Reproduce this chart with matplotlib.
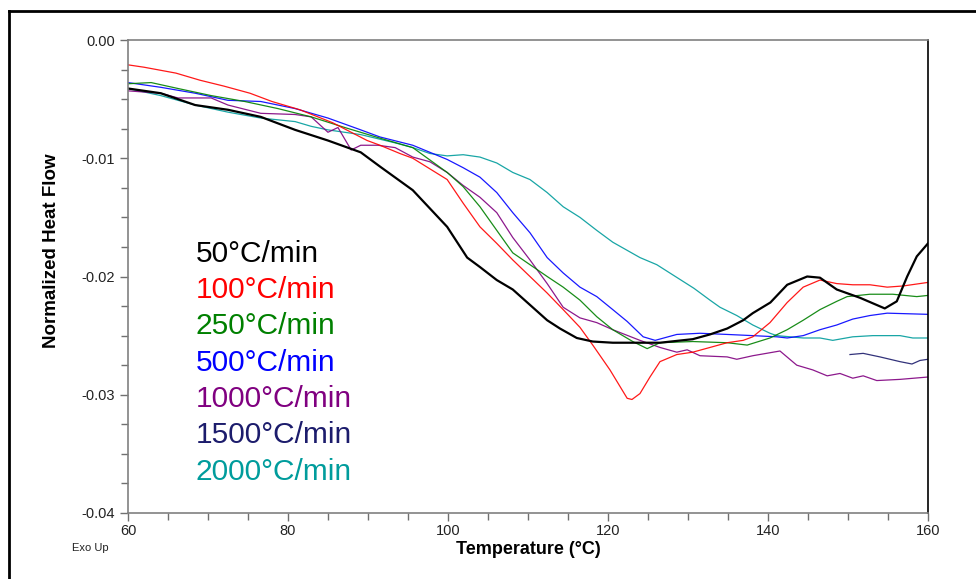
import matplotlib.pyplot as plt
from matplotlib.lines import Line2D
from matplotlib.ticker import MultipleLocator, FormatStrFormatter

plt.rcParams['font.family'] = ['Liberation Sans', 'DejaVu Sans']
plt.rcParams['axes.unicode_minus'] = False

# DSC traces (temperature in degC, normalized heat flow)
t_50 = [60, 64.1, 68.4, 72.5, 76.6, 80.9, 85, 89.1, 91.5, 95.6, 99.9, 102.4, 104, 106.1,
        108.1, 112.4, 114, 116.1, 118.1, 120.6, 124, 126.5, 130.6, 132.75, 134.9, 136.9,
        138.1, 140.3, 142.4, 144.9, 146.5, 148.6, 151.5, 154.6, 156.1, 157.4, 158.6, 160]
hf_50 = [-0.0041, -0.0045, -0.0055, -0.0059, -0.0065, -0.0076, -0.0085, -0.0095, -0.0107,
         -0.0127, -0.0158, -0.0184, -0.0192, -0.0203, -0.0211, -0.0237, -0.0244, -0.0252,
         -0.0255, -0.0256, -0.0256, -0.0256, -0.0253, -0.0249, -0.0244, -0.0237, -0.0231,
         -0.0222, -0.0207, -0.0200, -0.0201, -0.0211, -0.0218, -0.0227, -0.0221, -0.0200,
         -0.0183, -0.0172]

t_100 = [60, 62, 66, 69, 72, 75.25, 78, 81.5, 85.6, 89.9, 91.5, 94, 95.6, 99.9, 101.9, 104,
         106.1, 108.1, 110.25, 112.4, 114.4, 116.5, 118.1, 120.25, 122.4, 123, 124, 125.25,
         126.5, 128.6, 130.6, 132.75, 134.9, 136.9, 138.1, 140.25, 142.4, 144.4, 146.5,
         148.6, 150.6, 152.75, 154.9, 156.9, 160]
hf_100 = [-0.0021, -0.0023, -0.0028, -0.0034, -0.0039, -0.0045, -0.0052, -0.0059, -0.0070,
          -0.0085, -0.0089, -0.0096, -0.0100, -0.0118, -0.0138, -0.0158, -0.0172, -0.0186,
          -0.0200, -0.0214, -0.0228, -0.0243, -0.0258, -0.0279, -0.0303, -0.0304, -0.0299,
          -0.0285, -0.0272, -0.0266, -0.0264, -0.0260, -0.0256, -0.0254, -0.0251, -0.0239,
          -0.0222, -0.0209, -0.0203, -0.0206, -0.0207, -0.0207, -0.0209, -0.0208, -0.0205]

t_250 = [60, 62.9, 66.25, 70.4, 74.6, 78.75, 82.9, 87.1, 91.5, 95.6, 99.9, 101.9, 104, 106.1,
         108.1, 110.25, 112.4, 114.4, 116.5, 118.6, 120.6, 123.1, 124.9, 126.5, 130.6, 134.9,
         137.4, 140.25, 142.4, 144.4, 146.5, 148.6, 149.9, 152.75, 155.6, 158.6, 160]
hf_250 = [-0.0037, -0.0036, -0.0041, -0.0047, -0.0052, -0.0058, -0.0065, -0.0074, -0.0083,
          -0.0091, -0.0112, -0.0124, -0.0141, -0.0161, -0.0180, -0.0190, -0.0200, -0.0209,
          -0.0220, -0.0234, -0.0245, -0.0255, -0.0261, -0.0256, -0.0255, -0.0256, -0.0258,
          -0.0252, -0.0245, -0.0237, -0.0228, -0.0221, -0.0217, -0.0215, -0.0215, -0.0217,
          -0.0216]

t_500 = [60, 64.1, 68.4, 72.5, 76.6, 80.9, 85, 89.1, 91.5, 95.6, 99.9, 101.9, 104, 106.1,
         108.1, 110.25, 112.4, 114.4, 116.5, 118.6, 120.6, 122.4, 124.4, 125.9, 128.6, 131.5,
         134.9, 138.1, 141.1, 142.4, 144.4, 146.5, 148.6, 150.6, 152.75, 154.9, 160]
hf_500 = [-0.0036, -0.0040, -0.0045, -0.0051, -0.0052, -0.0058, -0.0066, -0.0076, -0.0082,
          -0.0089, -0.0101, -0.0108, -0.0116, -0.0129, -0.0146, -0.0163, -0.0184, -0.0197,
          -0.0209, -0.0217, -0.0228, -0.0238, -0.0251, -0.0254, -0.0249, -0.0248, -0.0249,
          -0.0250, -0.0251, -0.0252, -0.0250, -0.0245, -0.0241, -0.0236, -0.0233, -0.0231,
          -0.0232]

t_1000 = [60, 64.1, 66.25, 70.4, 72.5, 76.6, 80.9, 82.9, 85, 86.25, 87.9, 89.1, 91.25, 93.4,
          95.6, 97.75, 99.9, 101.9, 104, 106.1, 108.1, 110.25, 112.4, 114.4, 116.5, 118.6,
          120.6, 124, 126.5, 128.6, 129.9, 131.5, 134.9, 136.1, 138.1, 141.5, 143.6, 145.6,
          147.4, 149, 150.6, 151.9, 153.6, 156.5, 160]
hf_1000 = [-0.0043, -0.0045, -0.0049, -0.0049, -0.0055, -0.0062, -0.0063, -0.0065, -0.0078,
           -0.0074, -0.0093, -0.0089, -0.0089, -0.0091, -0.0099, -0.0103, -0.0112, -0.0123,
           -0.0133, -0.0146, -0.0167, -0.0186, -0.0206, -0.0226, -0.0235, -0.0239, -0.0245,
           -0.0254, -0.0260, -0.0264, -0.0262, -0.0267, -0.0268, -0.0270, -0.0267, -0.0263,
           -0.0275, -0.0279, -0.0284, -0.0282, -0.0286, -0.0284, -0.0288, -0.0287, -0.0285]

t_1500 = [150.25, 151.9, 154, 156.5, 158, 159, 160]
hf_1500 = [-0.0266, -0.0265, -0.0268, -0.0272, -0.0274, -0.0271, -0.0270]

t_2000 = [60, 64.1, 68.4, 72.5, 76.6, 80.9, 82.9, 85, 89.1, 93.4, 95.6, 97.75, 99.9, 101.9,
          104, 106.1, 108.1, 110.25, 112.4, 114.4, 116.5, 118.6, 120.6, 124, 126.1, 130.75,
          132.75, 134, 136.1, 138.1, 140.25, 141.1, 144.4, 146.5, 148.1, 150.6, 153.1, 156.5,
          158.1, 160]
hf_2000 = [-0.0041, -0.0047, -0.0055, -0.0061, -0.0066, -0.0069, -0.0073, -0.0076, -0.0080,
           -0.0087, -0.0091, -0.0096, -0.0098, -0.0097, -0.0099, -0.0104, -0.0112, -0.0118,
           -0.0129, -0.0141, -0.0150, -0.0161, -0.0171, -0.0184, -0.0190, -0.0210, -0.0220,
           -0.0226, -0.0233, -0.0241, -0.0248, -0.0250, -0.0252, -0.0252, -0.0254, -0.0251,
           -0.0250, -0.0250, -0.0252, -0.0252]

labels = ['50°C/min', '100°C/min', '250°C/min', '500°C/min',
          '1000°C/min', '1500°C/min', '2000°C/min']
colors = ['#000000', '#ff0000', '#008000', '#0000ff', '#800080', '#1c1c6c', '#009c9c']

series = [(t_50, hf_50), (t_100, hf_100), (t_250, hf_250), (t_500, hf_500),
          (t_1000, hf_1000), (t_1500, hf_1500), (t_2000, hf_2000)]

fig = plt.figure(figsize=(9.76, 5.79), dpi=100)
ax = fig.add_axes([0.1311, 0.114, 0.8197, 0.8169])

# draw order: back to front
order = [6, 5, 4, 3, 2, 1, 0]
for i in order:
    t, hf = series[i]
    lw = 1.6 if i == 0 else 0.9
    ax.plot(t, hf, color=colors[i], lw=lw, alpha=0.9 if i else 1.0)

ax.set_xlim(60, 160)
ax.set_ylim(-0.04, 0.0)
ax.xaxis.set_major_locator(MultipleLocator(20))
ax.xaxis.set_minor_locator(MultipleLocator(5))
ax.yaxis.set_major_locator(MultipleLocator(0.01))
ax.yaxis.set_minor_locator(MultipleLocator(0.0025))
ax.yaxis.set_major_formatter(FormatStrFormatter('%.2f'))
ax.xaxis.set_major_formatter(FormatStrFormatter('%d'))

ax.tick_params(which='both', direction='out', color='#707070', width=1,
               labelsize=10.5, labelcolor='#222222')
ax.tick_params(which='major', length=6)
ax.tick_params(which='minor', length=5)
ax.tick_params(axis='x', pad=2)

for side in ['left', 'bottom', 'top']:
    ax.spines[side].set_color('#808080')
    ax.spines[side].set_linewidth(1.2)
ax.spines['right'].set_color('black')
ax.spines['right'].set_linewidth(1.2)

# axis titles placed where the picture has them
fig.text(528 / 976, 1 - 549 / 579, 'Temperature (°C)', fontsize=13, fontweight='bold',
         ha='center', va='center')
fig.text(52 / 976, 1 - 251 / 579, 'Normalized Heat Flow', fontsize=13.5, fontweight='bold',
         ha='center', va='center', rotation=90)
fig.text(72 / 976, 1 - 548 / 579, 'Exo Up', fontsize=8, color='#222222', va='center')

# coloured legend text
for k, (lab, col) in enumerate(zip(labels, colors)):
    ax.text(0.085, 0.548 - k * 0.0768, lab, color=col, fontsize=21.5,
            transform=ax.transAxes, va='center', ha='left')

# outer frame (only left and top edges visible in the picture)
x0, y0 = 8.5 / 976, 1 - 11 / 579
fig.add_artist(Line2D([x0, x0], [0, y0], color='black', lw=2, transform=fig.transFigure))
fig.add_artist(Line2D([x0, 1], [y0, y0], color='black', lw=2, transform=fig.transFigure))

fig.savefig('out.png', dpi=100)
